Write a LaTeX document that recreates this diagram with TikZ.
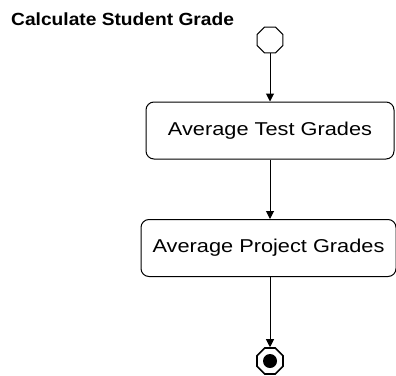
\documentclass[tikz,border=0pt]{standalone}
\usepackage{fontspec}
\setmainfont{Liberation Sans}
\usetikzlibrary{shapes.geometric,arrows.meta}
\tikzset{
  act/.style={draw, line width=1pt, rounded corners=8pt, minimum height=57pt, inner sep=0pt, font=\fontsize{18.6}{20}\selectfont},
  octa/.style={draw, line width=1pt, regular polygon, regular polygon sides=8, minimum size=28.1pt, inner sep=0pt},
  flow/.style={line width=1pt, -{Triangle[width=8pt,length=8pt]}},
}
\begin{document}
\begin{tikzpicture}[x=1pt,y=-1pt]
\useasboundingbox (0,0) rectangle (396,375);
\node[anchor=base west, font=\bfseries\fontsize{17.6}{19}\selectfont, inner sep=0pt] (title) at (11,25) {\scalebox{1.09}[1]{Calculate Student Grade}};
\node[octa] (start) at (270,40) {};
\node[act, minimum width=248pt] (b1) at (270,130.5) {\scalebox{1.17}[1]{Average Test Grades}};
\node[act, minimum width=255pt] (b2) at (268.5,248) {\scalebox{1.17}[1]{Average Project Grades}};
\node[octa, line width=1.6pt] (end) at (270,361) {};
\fill (end.center) circle (7);
\draw[flow] (start.south) -- (start.south |- b1.north);
\draw[flow] (b1.south) -- (b1.south |- b2.north);
\draw[flow] (b1.south |- b2.south) -- (end.north);
\end{tikzpicture}
\end{document}
